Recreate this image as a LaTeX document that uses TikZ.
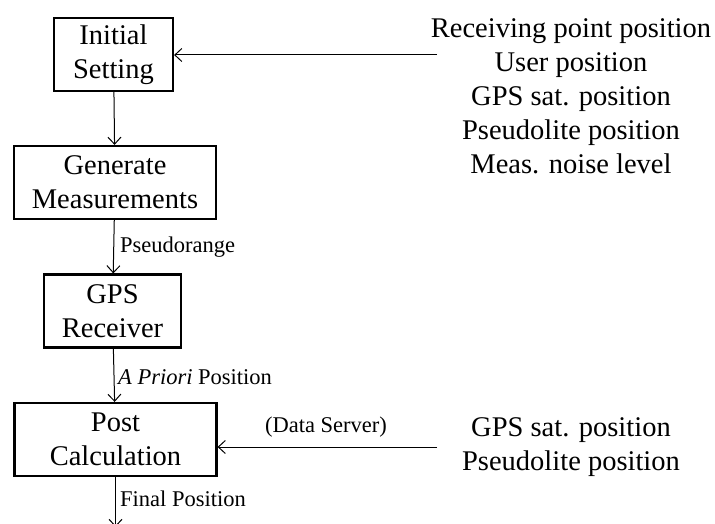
\documentclass[tikz,border=0pt]{standalone}
\usepackage{fontspec}
\setmainfont{Liberation Serif}
\usetikzlibrary{arrows.meta,calc}
\begin{document}
\begin{tikzpicture}[x=1pt,y=-1pt,
  box/.style={draw,line width=2.2pt,minimum height=73pt,inner sep=0pt,align=center,
    font=\fontsize{28.5}{34}\selectfont},
  arr/.style={line width=1pt,-{Straight Barb[length=7pt,width=13pt]}},
  lbl/.style={font=\fontsize{22.5}{27}\selectfont,inner sep=0pt},
  big/.style={font=\fontsize{28.5}{34}\selectfont,align=center,inner sep=0pt}]
\useasboundingbox (0,0) rectangle (715,524);
\node[box,minimum width=119pt] (init) at (113.5,54.5) {Initial\\Setting};
\node[box,minimum width=202pt] (gen) at (115,182.5) {Generate\\Measurements};
\node[box,minimum width=137pt] (gps) at (112.5,311) {GPS\\Receiver};
\node[box,minimum width=202pt] (post) at (115.5,439.5) {Post\\Calculation};
\coordinate (isrc) at (437,55);
\coordinate (dsrc) at (437,447);
\coordinate (fin) at (115.5,527);
\node[big] (inputs) at (571,96) {Receiving point position\\User position\\GPS sat. position\\Pseudolite position\\Meas. noise level};
\node[big] (server) at (571,447) {GPS sat. position\\Pseudolite position};
\draw[arr] (init) -- (gen);
\draw[arr] (gen) -- (gps);
\draw[arr] (gps) -- (post);
\draw[arr] (post) -- (fin);
\draw[arr] (isrc) -- (isrc -| init.east);
\draw[arr] (dsrc) -- (dsrc -| post.east);
\node[lbl,anchor=west] (l1) at (120,247) {Pseudorange};
\node[lbl,anchor=west] (l2) at (118,377) {\textit{A Priori} Position};
\node[lbl,anchor=west] (l3) at (120,499) {Final Position};
\node[lbl] (l4) at (326,427) {(Data Server)};
\end{tikzpicture}
\end{document}
